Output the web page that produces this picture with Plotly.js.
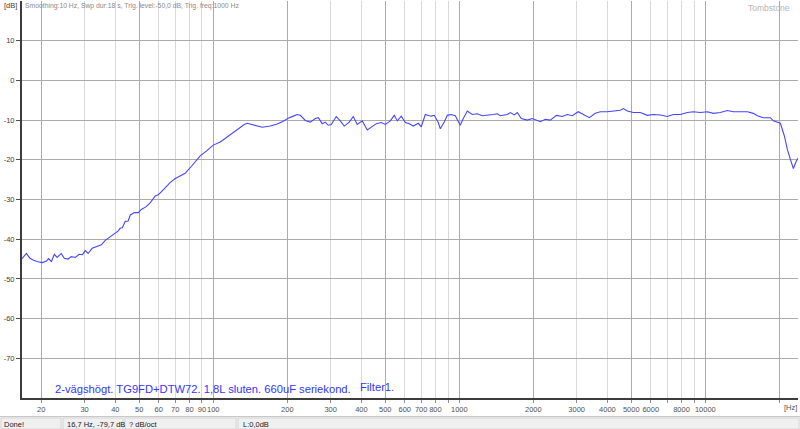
<!DOCTYPE html>
<html>
<head>
<meta charset="utf-8">
<script src="https://cdn.plot.ly/plotly-3.0.1.min.js"></script>
<style>html,body{margin:0;padding:0;background:#fff;}#chart{width:800px;height:429px;}</style>
</head>
<body>
<div id="chart"></div>
<script>
// Frequency response (Hz, dB)
var freqHz = [16.7, 17.4, 18.0, 18.6, 19.4, 20.2, 21.0, 21.4, 22.0, 22.6, 23.2, 24.1, 24.8, 25.7, 26.5, 27.5, 28.5, 29.4, 30.2, 31.0,
  32.2, 33.8, 35.1, 36.4, 37.8, 39.2, 41.1, 41.9, 42.7, 43.9, 45.1, 46.0, 47.8, 49.6, 51.0, 53.4, 55.5, 58.1, 59.8, 61.5,
  64.4, 66.9, 70.1, 73.4, 76.9, 80.6, 84.5, 88.5, 93.7, 100, 106.8, 112.9, 119.5, 126.4, 133.7, 137.5, 141.4, 149.6, 158.2, 170.5,
  182, 192.6, 201.8, 211.5, 219.6, 225.9, 236.6, 248, 259.8, 267.3, 277.4, 285.3, 293.4, 301.8, 316.2, 328.3, 340.8, 357.1, 370.7, 384.9,
  403.3, 422.7, 443, 459.9, 481.9, 500.3, 524.2, 544.3, 559.8, 581.1, 603.3, 626.3, 650.2, 681.3, 700.7, 727.4, 755.1, 769.4, 791.3, 821.4,
  837.1, 869, 893.8, 927.9, 963.3, 990.6, 1009, 1038, 1078, 1129, 1184, 1240, 1300, 1375, 1427, 1468, 1567, 1612, 1673, 1721,
  1786, 1890, 1981, 2075, 2135, 2237, 2344, 2480, 2622, 2748, 2879, 3045, 3191, 3377, 3571, 3744, 3997, 4227, 4513, 4642,
  4819, 5098, 5443, 5811, 6146, 6563, 7006, 7411, 7913, 8450, 8940, 9543, 10188, 10776, 11508, 12284, 12996, 13877, 14816, 15670,
  16270, 17209, 18375, 18898, 19622, 20180, 20950, 21544, 22158, 22790, 23440, 23880];
var levelDb = [-44.9, -43.6, -44.8, -45.3, -45.7, -45.9, -45.5, -44.9, -45.6, -43.8, -44.6, -43.6, -44.8, -45.0, -44.4, -44.6, -43.8, -43.9, -42.9, -43.6,
  -42.3, -41.9, -41.4, -40.3, -39.6, -39.0, -37.9, -37.2, -37.1, -35.5, -35.4, -33.9, -33.3, -33.3, -32.5, -31.8, -30.8, -29.1, -28.8, -28.1,
  -26.8, -25.7, -24.7, -24.1, -23.4, -22.0, -20.5, -19.0, -17.8, -16.3, -15.5, -14.4, -13.2, -12.2, -11.1, -10.8, -11.0, -11.4, -11.8, -11.5,
  -11.0, -10.3, -9.5, -9.0, -8.6, -8.8, -10.1, -10.5, -9.6, -9.4, -10.9, -10.5, -11.3, -11.1, -9.1, -10.2, -11.5, -10.5, -9.1, -11.1,
  -10.2, -12.5, -11.5, -10.9, -10.6, -11.1, -10.2, -8.8, -10.2, -9.0, -10.6, -10.9, -11.5, -10.8, -11.7, -8.6, -8.9, -9.0, -8.8, -10.6,
  -12.2, -10.5, -8.8, -8.6, -8.9, -10.5, -11.3, -9.6, -7.7, -8.6, -8.4, -8.9, -8.8, -8.6, -8.4, -8.9, -8.6, -8.1, -8.7, -8.1,
  -9.6, -10.0, -9.6, -10.2, -10.4, -9.8, -10.0, -8.8, -9.1, -8.6, -8.9, -7.9, -8.6, -9.4, -8.3, -7.9, -7.9, -7.7, -7.5, -7.1,
  -7.7, -8.1, -8.1, -8.8, -8.6, -8.7, -9.1, -8.6, -8.6, -8.1, -7.9, -8.1, -7.9, -8.3, -8.1, -7.6, -7.9, -7.9, -7.9, -8.3,
  -8.9, -9.4, -9.4, -10.2, -10.6, -10.8, -14.0, -17.4, -19.9, -22.2, -20.3, -19.5];

// Axis ticks
var xTickVals = [20, 30, 40, 50, 60, 70, 80, 90, 100, 200, 300, 400, 500, 600, 700, 800, 900, 1000,
  2000, 3000, 4000, 5000, 6000, 7000, 8000, 9000, 10000, 20000];
var xTickText = ['20', '30', '40', '50', '60', '70', '80', '90', '100', '200', '300', '400', '500', '600', '700', '800', '', '1000',
  '2000', '3000', '4000', '5000', '6000', '', '8000', '', '10000', ''];
var xStrongGrid = [20, 50, 100, 200, 500, 1000, 2000, 5000, 10000, 20000];
var yTickVals = [-70, -60, -50, -40, -30, -20, -10, 0, 10];
var yTickText = ['-70', '-60', '-50', '-40', '-30', '-20', '-10', '0', '10'];

// Texts
var headerText = 'Smoothing:10 Hz, Swp dur:18 s, Trig. level:-50,0 dB, Trig. freq:1000 Hz';
var captionText = '2-vägshögt. TG9FD+DTW72. 1,8L sluten. 660uF seriekond.';
var captionText2 = 'Filter1.';
var statusTexts = ['Done!', '16,7 Hz, -79,7 dB', '? dB/oct', 'L:0,0dB'];

// layout helpers: pixel -> paper coordinates
var L = 22, R = 798, T = 1, B = 398;
function px(x) { return (x - L) / (R - L); }
function py(y) { return (B - y) / (B - T); }

var xRange = [Math.log10(16.7), Math.log10(23800)];
var FONT = 'Liberation Sans, Arial, sans-serif';

var traces = [
  {x: [], y: [], xaxis: 'x', yaxis: 'y', type: 'scatter', mode: 'lines', hoverinfo: 'skip'},
  {x: freqHz, y: levelDb, xaxis: 'x2', yaxis: 'y', type: 'scatter', mode: 'lines',
   line: {color: '#4646ff', width: 1.1}, hoverinfo: 'skip'}
];

function ann(text, x, y, xanchor, size, color, extra) {
  var a = {text: text, x: x, y: y, xref: 'paper', yref: 'paper', xanchor: xanchor, yanchor: 'middle',
    showarrow: false, font: {family: FONT, size: size, color: color}, borderpad: 0};
  if (extra) for (var k in extra) a[k] = extra[k];
  return a;
}

var annotations = [
  ann('[dB]', px(3), py(6), 'left', 7.5, '#404040'),
  ann(headerText, px(24), py(6), 'left', 6.8, '#8a8a8a'),
  ann('Tombstone', px(791), py(8), 'right', 8.5, '#b5b5b5'),
  ann(captionText, px(54), py(389), 'left', 11.2, '#3535ff'),
  ann(captionText2, px(359), py(387), 'left', 11.2, '#3535ff'),
  ann('[Hz]', px(798), py(407), 'right', 7.5, '#505050'),
  ann(statusTexts[0], px(3), py(424), 'left', 7.5, '#202020'),
  ann(statusTexts[1], px(66), py(424), 'left', 7.5, '#202020'),
  ann(statusTexts[2], px(128), py(424), 'left', 7.5, '#202020'),
  ann(statusTexts[3], px(242), py(424), 'left', 7.5, '#202020')
];

function rect(x0, y0, x1, y1, fill, lineColor) {
  return {type: 'rect', xref: 'paper', yref: 'paper', x0: px(x0), x1: px(x1), y0: py(y0), y1: py(y1),
    fillcolor: fill, line: {color: lineColor || fill, width: lineColor ? 1 : 0}, layer: 'above'};
}

var shapes = [
  rect(0, 416, 800, 429, '#f0f0f0'),
  {type: 'line', xref: 'paper', yref: 'paper', x0: px(0), x1: px(800), y0: py(416.5), y1: py(416.5),
   line: {color: '#c8c8c8', width: 1}, layer: 'above'},
  rect(1, 418, 61, 429, '#f0f0f0', '#d6d6d6'),
  rect(63, 418, 123, 429, '#f0f0f0', '#d6d6d6'),
  rect(125, 418, 236, 429, '#f0f0f0', '#d6d6d6'),
  rect(238, 418, 799, 429, '#f0f0f0', '#d6d6d6')
];

var layout = {
  width: 800, height: 429,
  margin: {l: L, r: 800 - R, t: T, b: 429 - B, pad: 0},
  paper_bgcolor: '#ffffff', plot_bgcolor: '#ffffff',
  showlegend: false,
  font: {family: FONT, size: 7, color: '#505050'},
  xaxis: {
    type: 'log', range: xRange, tickmode: 'array', tickvals: xTickVals, ticktext: xTickText,
    tickangle: 0,
    showgrid: true, gridcolor: '#d9d9d9', gridwidth: 1,
    ticks: 'outside', ticklen: 3, tickwidth: 1, tickcolor: '#909090',
    showline: true, linecolor: '#3c3c3c', linewidth: 2,
    tickfont: {family: FONT, size: 7.5, color: '#505050'}, zeroline: false, fixedrange: true
  },
  xaxis2: {
    type: 'log', range: xRange, overlaying: 'x', tickmode: 'array', tickvals: xStrongGrid,
    showgrid: true, gridcolor: '#ababab', gridwidth: 1, ticks: '', showticklabels: false,
    showline: false, zeroline: false, fixedrange: true
  },
  yaxis: {
    range: [-80, 20], tickmode: 'array', tickvals: yTickVals, ticktext: yTickText,
    showgrid: true, gridcolor: '#ababab', gridwidth: 1,
    ticks: 'outside', ticklen: 4, tickwidth: 1, tickcolor: '#505050',
    showline: true, linecolor: '#3c3c3c', linewidth: 2,
    tickfont: {family: FONT, size: 7.5, color: '#404040'}, zeroline: false, fixedrange: true
  },
  annotations: annotations,
  shapes: shapes
};

Plotly.newPlot('chart', traces, layout, {staticPlot: true, displayModeBar: false});
</script>
</body>
</html>
